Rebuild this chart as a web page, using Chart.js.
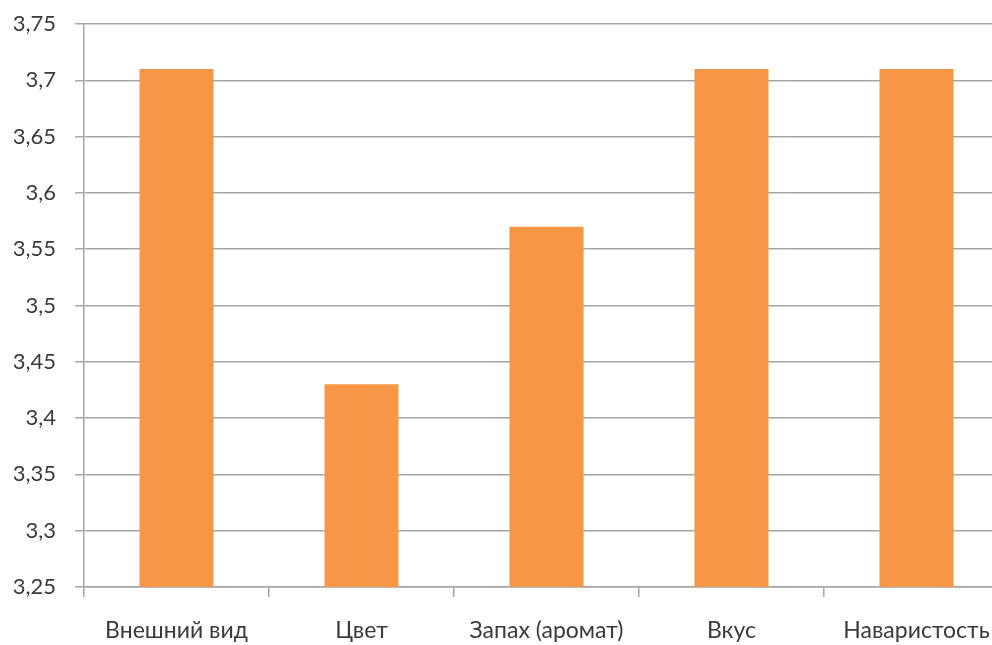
<!DOCTYPE html>
<html>
<head>
<meta charset="utf-8">
<script src="https://cdn.jsdelivr.net/npm/chart.js@4/dist/chart.umd.min.js"></script>
<style>
  html, body { margin: 0; padding: 0; background: #fff; overflow: hidden; }
  #wrap { width: 1009px; height: 645px; }
</style>
</head>
<body>
<div id="wrap"><canvas id="c" width="1009" height="645"></canvas></div>
<script>
// Оценки качества по органолептическим показателям
const categories = ['Внешний вид', 'Цвет', 'Запах (аромат)', 'Вкус', 'Наваристость'];
const scores = [3.71, 3.43, 3.57, 3.71, 3.71];
const yMin = 3.25;
const yMax = 3.75;
const yStep = 0.05;

const gridColor = '#a6a6a6';
const textColor = '#3a3a3a';
const fontFamily = 'Lato, "Open Sans", sans-serif';

new Chart(document.getElementById('c'), {
  type: 'bar',
  data: {
    labels: categories,
    datasets: [{
      data: scores,
      backgroundColor: '#F79646',
      borderWidth: 0,
      barPercentage: 0.4,
      categoryPercentage: 1.0
    }]
  },
  options: {
    responsive: false,
    animation: false,
    devicePixelRatio: 1,
    layout: { padding: { top: 24, left: 0, right: 0, bottom: 0 } },
    plugins: {
      legend: { display: false },
      tooltip: { enabled: false }
    },
    scales: {
      x: {
        offset: true,
        grid: {
          offset: true,
          drawOnChartArea: false,
          drawTicks: true,
          tickLength: 10,
          color: gridColor,
          lineWidth: 1.5
        },
        border: { display: true, color: gridColor, width: 1.5 },
        ticks: {
          color: textColor,
          font: { family: fontFamily, size: 23 },
          padding: 20,
          maxRotation: 0,
          autoSkip: false
        },
        afterFit: (scale) => {
          scale.height = 58;
          scale.paddingLeft = 0;
          scale.paddingRight = 0;
        }
      },
      y: {
        min: yMin,
        max: yMax,
        grid: {
          color: gridColor,
          lineWidth: 1.5,
          drawTicks: true,
          tickLength: 9
        },
        border: { display: true, color: gridColor, width: 1.5 },
        ticks: {
          stepSize: yStep,
          color: textColor,
          font: { family: fontFamily, size: 22 },
          padding: 19,
          callback: (v) => Number(Number(v).toFixed(2)).toString().replace('.', ',')
        },
        afterFit: (scale) => {
          scale.width = 84;
          scale.paddingTop = 0;
          scale.paddingBottom = 0;
        }
      }
    }
  }
});
</script>
</body>
</html>
